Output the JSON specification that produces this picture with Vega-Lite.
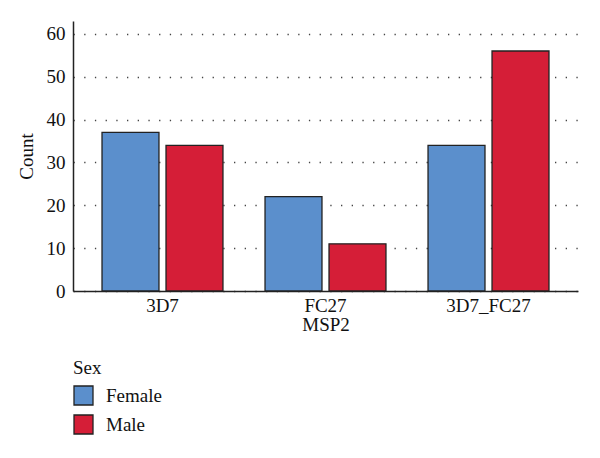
{
  "$schema": "https://vega.github.io/schema/vega-lite/v6.json",
  "width": 505,
  "height": 270,
  "autosize": {"type": "none"},
  "padding": {"left": 73, "top": 21, "right": 22, "bottom": 167},
  "background": "white",
  "config": {
    "font": "Liberation Serif",
    "view": {"stroke": null},
    "axis": {
      "labelFont": "Liberation Serif",
      "titleFont": "Liberation Serif",
      "labelFontSize": 19,
      "titleFontSize": 19,
      "labelColor": "#111",
      "titleColor": "#111",
      "titleFontWeight": "normal",
      "domainColor": "#222",
      "domainWidth": 1.5
    },
    "legend": {
      "labelFont": "Liberation Serif",
      "titleFont": "Liberation Serif"
    }
  },
  "data": {
    "values": [
      {"MSP2": "3D7", "Sex": "Female", "Count": 37},
      {"MSP2": "3D7", "Sex": "Male", "Count": 34},
      {"MSP2": "FC27", "Sex": "Female", "Count": 22},
      {"MSP2": "FC27", "Sex": "Male", "Count": 11},
      {"MSP2": "3D7_FC27", "Sex": "Female", "Count": 34},
      {"MSP2": "3D7_FC27", "Sex": "Male", "Count": 56}
    ]
  },
  "mark": {"type": "bar", "stroke": "#222", "strokeWidth": 1.3},
  "encoding": {
    "x": {
      "field": "MSP2",
      "type": "nominal",
      "sort": ["3D7", "FC27", "3D7_FC27"],
      "scale": {"paddingInner": 0.258, "paddingOuter": 0.178},
      "axis": {
        "labelAngle": 0,
        "labelFont": "Liberation Serif",
        "titleFont": "Liberation Serif",
        "ticks": false,
        "labelPadding": 5,
        "titlePadding": 0,
        "title": "MSP2"
      }
    },
    "xOffset": {
      "field": "Sex",
      "type": "nominal",
      "scale": {"paddingInner": 0.11, "paddingOuter": 0}
    },
    "y": {
      "field": "Count",
      "type": "quantitative",
      "scale": {"domain": [0, 63], "nice": false},
      "axis": {
        "values": [0, 10, 20, 30, 40, 50, 60],
        "labelFont": "Liberation Serif",
        "titleFont": "Liberation Serif",
        "ticks": false,
        "labelPadding": 8,
        "titlePadding": 10,
        "title": "Count",
        "grid": true,
        "gridColor": "#444",
        "gridWidth": 1.3,
        "gridDash": [1.3, 9.4]
      }
    },
    "color": {
      "field": "Sex",
      "type": "nominal",
      "scale": {"domain": ["Female", "Male"], "range": ["#5b8fcc", "#d51e37"]},
      "legend": {
        "orient": "none",
        "legendX": 0,
        "legendY": 338,
        "title": "Sex",
        "titleFontSize": 19,
        "titleFontWeight": "normal",
        "titleColor": "#111",
        "titlePadding": 7,
        "labelFontSize": 19,
        "labelColor": "#111",
        "labelOffset": 12,
        "symbolType": "square",
        "symbolSize": 361,
        "symbolStrokeColor": "#222",
        "symbolStrokeWidth": 1.3,
        "rowPadding": 4
      }
    }
  }
}
